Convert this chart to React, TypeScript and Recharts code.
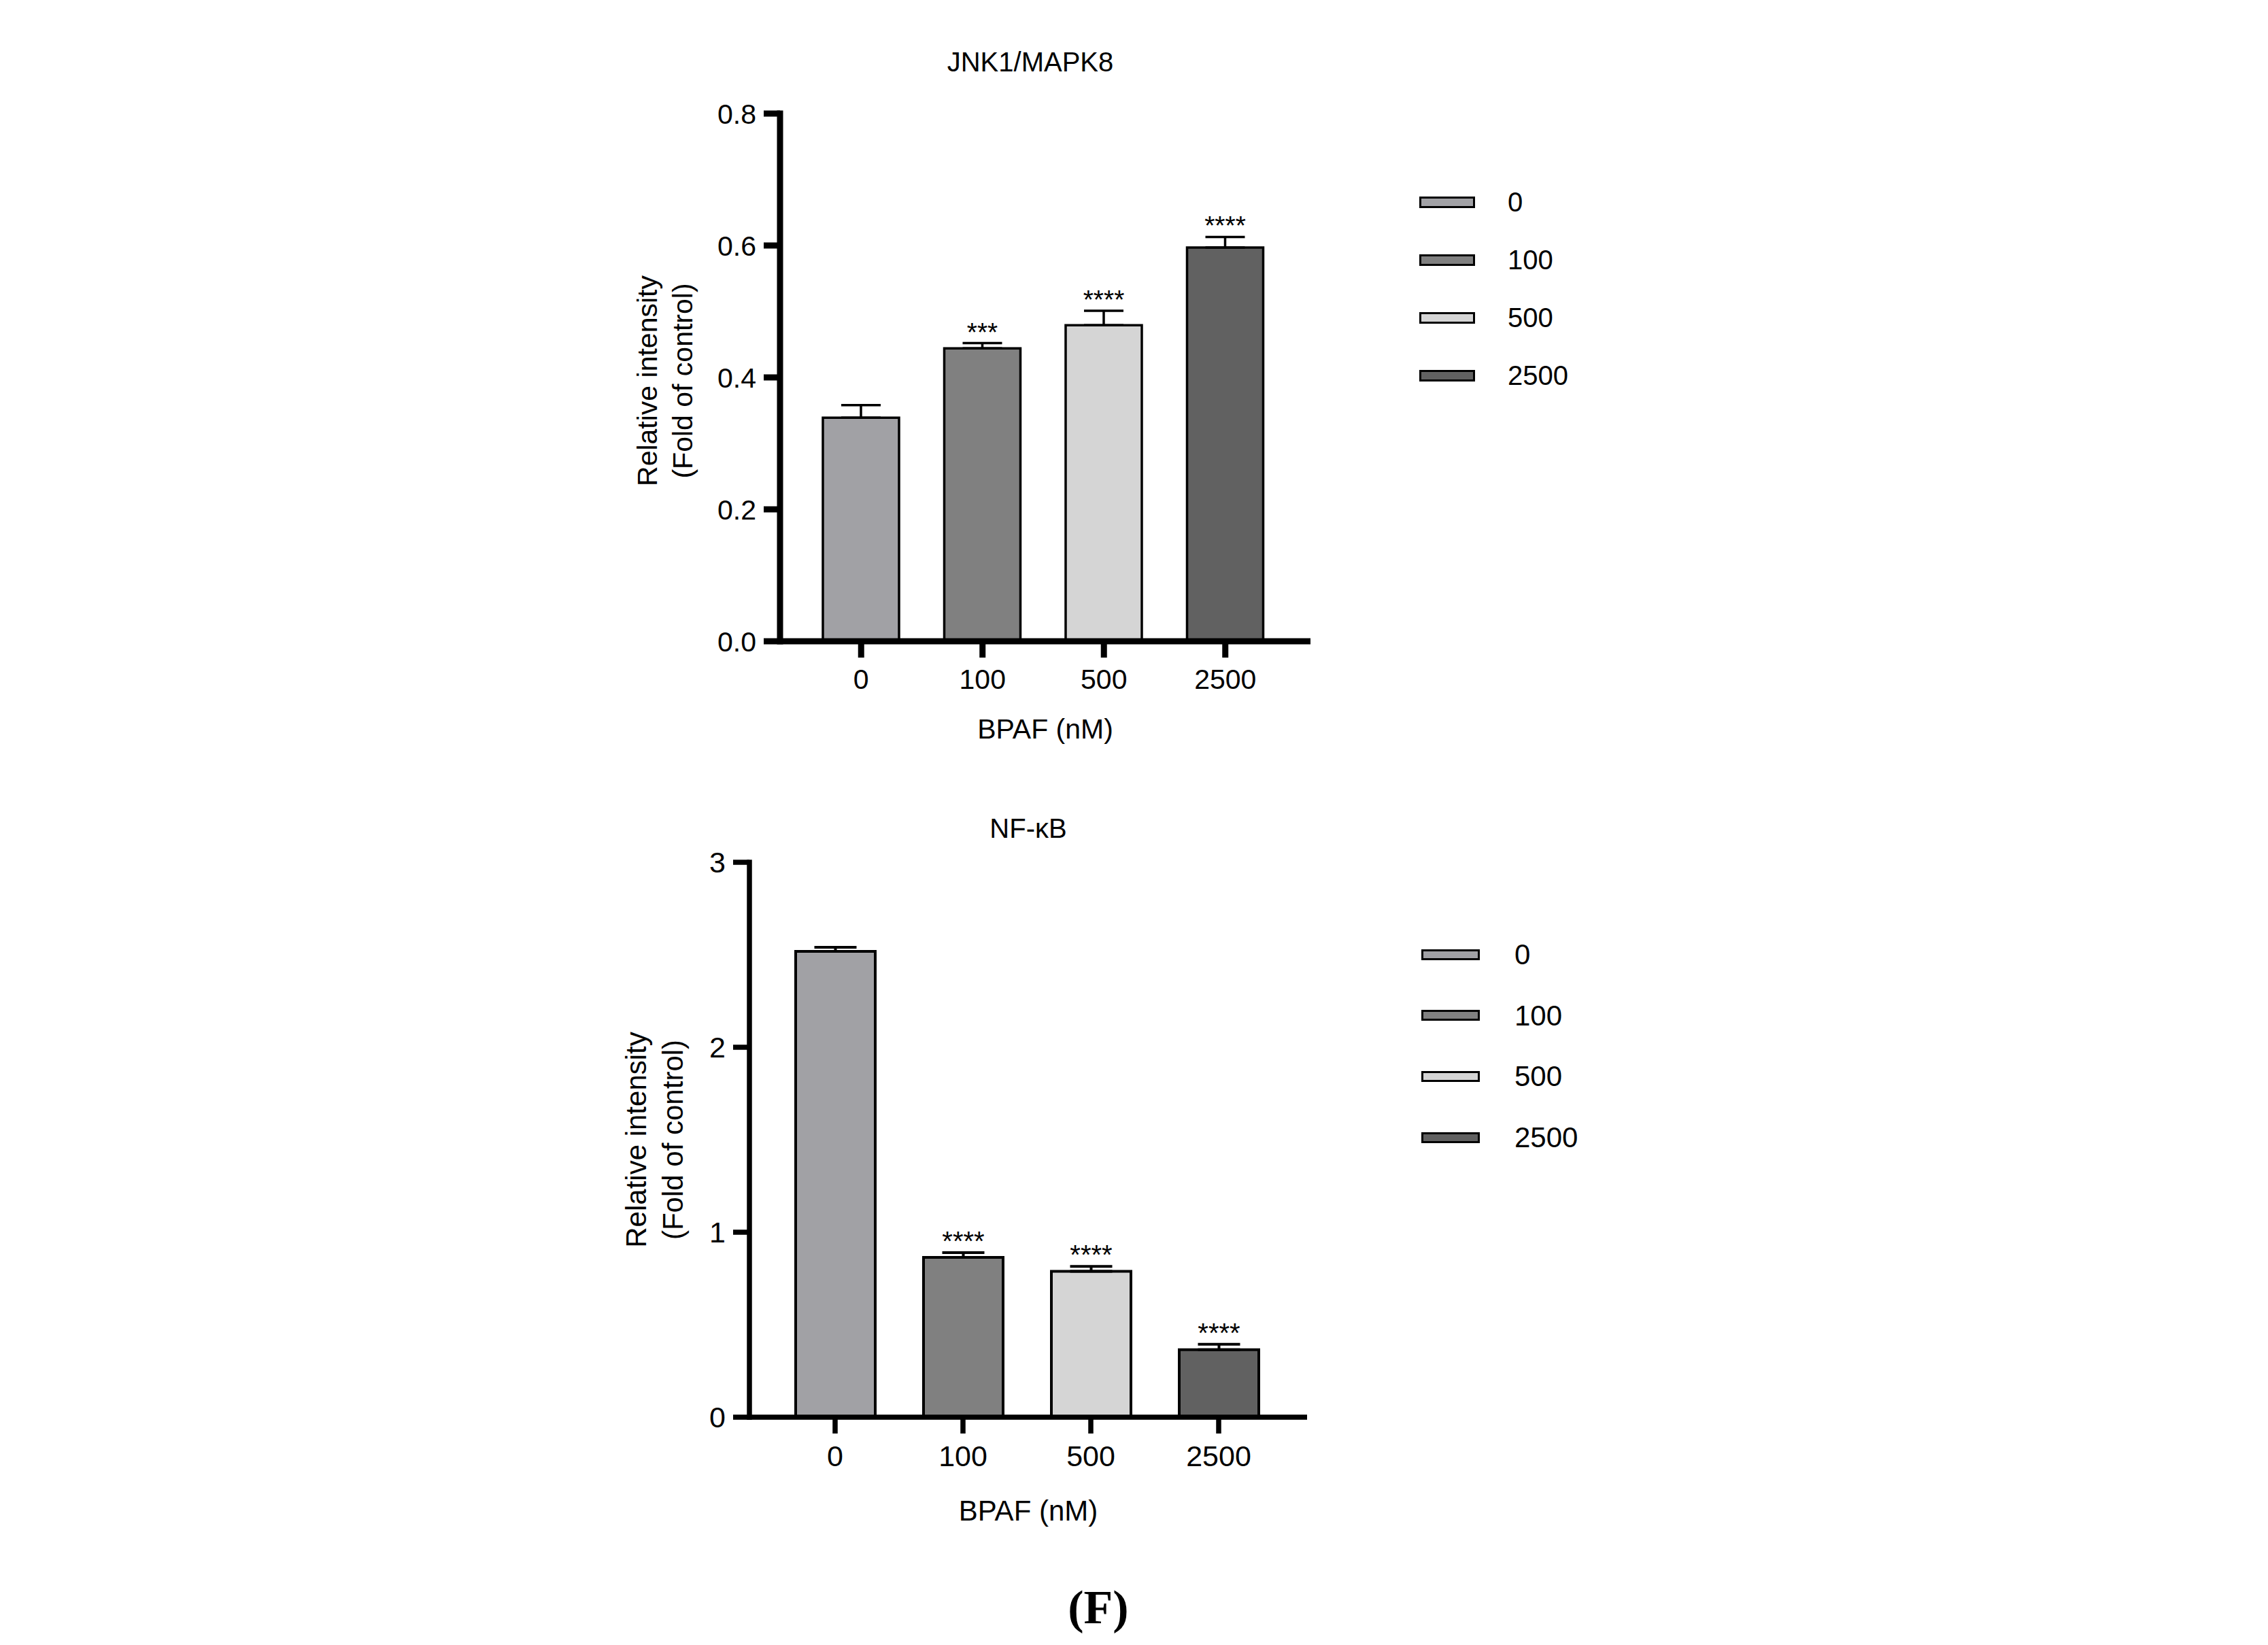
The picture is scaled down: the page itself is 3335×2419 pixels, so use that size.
import { BarChart, Bar, XAxis, YAxis, Cell, ErrorBar, LabelList, Legend, Label } from 'recharts'

const doses = ['0', '100', '500', '2500']
const doseFills = ['#a1a1a5', '#808080', '#d5d5d5', '#616161']

const jnkMean = [0.339, 0.444, 0.479, 0.597]
const jnkSem = [0.019, 0.008, 0.022, 0.016]
const jnkSig = ['', '***', '****', '****']
const jnkTicks = [0, 0.2, 0.4, 0.6, 0.8]

const nfkbMean = [2.518, 0.864, 0.789, 0.365]
const nfkbSem = [0.022, 0.026, 0.026, 0.029]
const nfkbSig = ['', '****', '****', '****']
const nfkbTicks = [0, 1, 2, 3]

const yTitleLines = ['Relative intensity', '(Fold of control)']
const xTitle = 'BPAF (nM)'

const FONT = '"Liberation Sans", Arial, Helvetica, sans-serif'

function toRows(mean: number[], sem: number[], sig: string[]) {
  return doses.map((d, i) => ({ dose: d, mean: mean[i], err: [0, sem[i]], sig: sig[i] }))
}

interface PanelCfg {
  left: number
  top: number
  width: number
  height: number
  marginTop: number
  marginRight: number
  yAxisWidth: number
  xAxisHeight: number
  padL: number
  padR: number
  barSize: number
  barStroke: number
  axisStroke: number
  errStroke: number
  capHalf: number
  tickFont: number
  labelFont: number
  sigFont: number
  yLineX: number[]
  yLabelCy: number
  xLabelBaseline: number
  legendLeft: number
  legendTop: number
  legendRow: number
  swatchW: number
  swatchH: number
  legendTextX: number
  legendFont: number
  tickFmt: (v: number) => string
}

const topCfg: PanelCfg = {
  left: 880, top: 0, width: 1500, height: 1150,
  marginTop: 167, marginRight: 453, yAxisWidth: 267, xAxisHeight: 207,
  padL: 30, padR: 36, barSize: 112, barStroke: 3.5, axisStroke: 9, errStroke: 3.5, capHalf: 29,
  tickFont: 41, labelFont: 41, sigFont: 39,
  yLineX: [72, 124], yLabelCy: 560, xLabelBaseline: 1086,
  legendLeft: 1207, legendTop: 254.5, legendRow: 85, swatchW: 82, swatchH: 17, legendTextX: 130, legendFont: 40,
  tickFmt: (v) => v.toFixed(1),
}

const bottomCfg: PanelCfg = {
  left: 880, top: 1180, width: 1500, height: 1180,
  marginTop: 88, marginRight: 458, yAxisWidth: 222, xAxisHeight: 276,
  padL: 32, padR: 36, barSize: 117, barStroke: 4, axisStroke: 7.5, errStroke: 4, capHalf: 31,
  tickFont: 43, labelFont: 42, sigFont: 40,
  yLineX: [55, 109], yLabelCy: 496, xLabelBaseline: 1056,
  legendLeft: 1210, legendTop: 179, legendRow: 89.6, swatchW: 86, swatchH: 16, legendTextX: 137, legendFont: 42,
  tickFmt: (v) => String(v),
}

function DoseLegend({ cfg }: { cfg: PanelCfg }) {
  return (
    <div style={{ fontFamily: FONT }}>
      {doses.map((d, i) => (
        <div key={d} style={{ position: 'relative', height: cfg.legendRow }}>
          <div
            style={{
              position: 'absolute', left: 0, top: (cfg.legendRow - cfg.swatchH) / 2,
              width: cfg.swatchW, height: cfg.swatchH, boxSizing: 'border-box',
              border: '3px solid #000', background: doseFills[i],
            }}
          />
          <div
            style={{
              position: 'absolute', left: cfg.legendTextX, top: 0, height: cfg.legendRow,
              lineHeight: `${cfg.legendRow}px`, fontSize: cfg.legendFont, color: '#000',
            }}
          >
            {d}
          </div>
        </div>
      ))}
    </div>
  )
}

function Panel({ cfg, mean, sem, sig, ticks }: { cfg: PanelCfg; mean: number[]; sem: number[]; sig: string[]; ticks: number[] }) {
  const data = toRows(mean, sem, sig)
  const plotW = cfg.width - cfg.yAxisWidth - cfg.marginRight

  const renderSig = (props: any) => {
    const vb = props.viewBox ?? props
    const { x, y, width, height } = vb
    const i = props.index
    if (!sig[i]) return null
    const errPx = (Math.abs(height) * sem[i]) / mean[i]
    return (
      <text x={x + width / 2} y={y - errPx - 3} textAnchor="middle" fontSize={cfg.sigFont} fill="#000">
        {sig[i]}
      </text>
    )
  }

  const yTitle = () => (
    <g>
      {yTitleLines.map((t, i) => (
        <text
          key={t}
          transform={`translate(${cfg.yLineX[i]},${cfg.yLabelCy}) rotate(-90)`}
          textAnchor="middle"
          dominantBaseline="central"
          fontSize={cfg.labelFont}
          fill="#000"
        >
          {t}
        </text>
      ))}
    </g>
  )

  const xTitleEl = () => (
    <text x={cfg.yAxisWidth + plotW / 2} y={cfg.xLabelBaseline} textAnchor="middle" fontSize={cfg.labelFont} fill="#000">
      {xTitle}
    </text>
  )

  return (
    <div style={{ position: 'absolute', left: cfg.left, top: cfg.top, width: cfg.width, height: cfg.height }}>
      <BarChart
        width={cfg.width}
        height={cfg.height}
        data={data}
        margin={{ top: cfg.marginTop, right: cfg.marginRight, bottom: 0, left: 0 }}
      >
        <XAxis
          dataKey="dose"
          height={cfg.xAxisHeight}
          padding={{ left: cfg.padL, right: cfg.padR }}
          axisLine={{ stroke: '#000', strokeWidth: cfg.axisStroke }}
          tickLine={{ stroke: '#000', strokeWidth: cfg.axisStroke }}
          tickSize={24}
          tickMargin={17}
          tick={{ fill: '#000', fontSize: cfg.tickFont }}
          interval={0}
          label={<Label content={xTitleEl} />}
        />
        <YAxis
          width={cfg.yAxisWidth}
          domain={[ticks[0], ticks[ticks.length - 1]]}
          ticks={ticks}
          tickFormatter={cfg.tickFmt}
          interval={0}
          axisLine={{ stroke: '#000', strokeWidth: cfg.axisStroke, strokeLinecap: 'square' }}
          tickLine={{ stroke: '#000', strokeWidth: cfg.axisStroke }}
          tickSize={24}
          tickMargin={11}
          tick={{ fill: '#000', fontSize: cfg.tickFont }}
          label={<Label content={yTitle} />}
        />
        <Legend
          layout="horizontal"
          verticalAlign="middle"
          align="center"
          wrapperStyle={{ left: cfg.legendLeft, top: cfg.legendTop, width: 320 }}
          content={() => <DoseLegend cfg={cfg} />}
        />
        <Bar dataKey="mean" barSize={cfg.barSize} stroke="#000" strokeWidth={cfg.barStroke} isAnimationActive={false}>
          {data.map((d, i) => (
            <Cell key={d.dose} fill={doseFills[i]} />
          ))}
          <ErrorBar dataKey="err" direction="y" width={cfg.capHalf} stroke="#000" strokeWidth={cfg.errStroke} isAnimationActive={false} />
          <LabelList dataKey="sig" content={renderSig} />
        </Bar>
      </BarChart>
    </div>
  )
}

export default function App() {
  return (
    <div style={{ position: 'absolute', left: 0, top: 0, width: 3335, height: 2419, background: '#fff', fontFamily: FONT }}>
      <Panel cfg={topCfg} mean={jnkMean} sem={jnkSem} sig={jnkSig} ticks={jnkTicks} />
      <Panel cfg={bottomCfg} mean={nfkbMean} sem={nfkbSem} sig={nfkbSig} ticks={nfkbTicks} />
      <svg width={3335} height={2419} style={{ position: 'absolute', left: 0, top: 0, pointerEvents: 'none' }}>
        <text x={1515} y={105} textAnchor="middle" fontSize={40} fill="#000" fontFamily={FONT}>
          JNK1/MAPK8
        </text>
        <text x={1512} y={1232} textAnchor="middle" fontSize={40} fill="#000" fontFamily={FONT}>
          NF-κB
        </text>
        <text x={1615} y={2387} textAnchor="middle" fontSize={70} fontWeight="bold" fill="#000" fontFamily='"Liberation Serif", "Times New Roman", serif'>
          (F)
        </text>
      </svg>
    </div>
  )
}
